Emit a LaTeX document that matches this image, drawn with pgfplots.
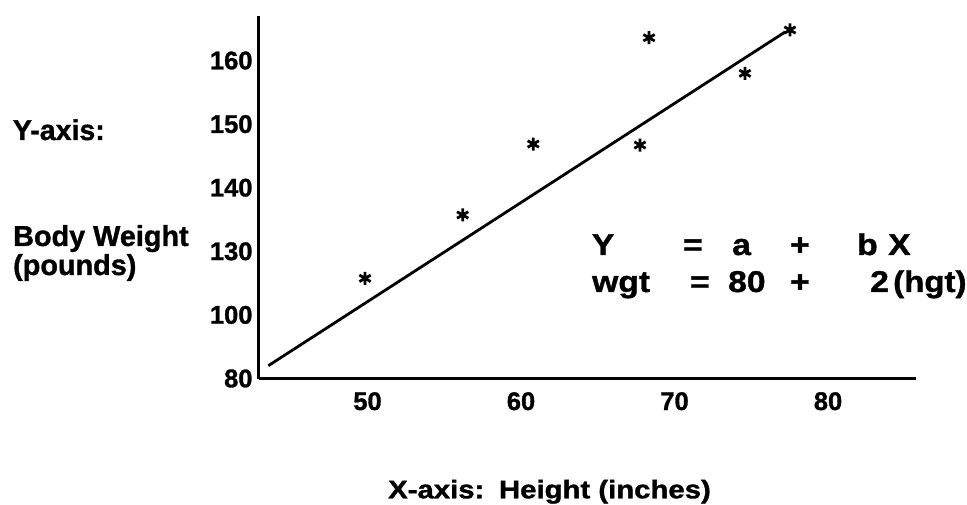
\documentclass[border=0pt]{standalone}
\usepackage{pgfplots}
\pgfplotsset{compat=1.18}
\usepackage{graphicx}
\usepackage{fontspec}
\setmainfont{Liberation Sans}[BoldFeatures={FakeBold=1.2}]
\newcommand\fs[1]{\fontsize{#1bp}{#1bp}\selectfont\bfseries}
\pgfplotstableread{
x y
49.84 125.75
56.20 135.71
60.80 146.87
67.75 146.71
68.34 163.58
74.59 157.99
77.52 164.80
}\pts
\begin{document}
\begin{tikzpicture}
\useasboundingbox (0,0) rectangle (967bp,505bp);
\begin{axis}[
  at={(258.5bp,126bp)}, anchor=south west,
  scale only axis, width=657.5bp, height=363bp,
  xmin=42.90, xmax=85.73, ymin=109.92, ymax=167.0,
  axis x line*=bottom, axis y line*=left,
  axis line style={-, line width=3bp},
  xtick={50,60,70,80}, xticklabels={50,60,70,80},
  ytick={110,120,130,140,150,160}, yticklabels={80,100,130,140,150,160},
  major tick length=0pt,
  ticklabel style={font=\fs{25.5}, inner sep=0pt},
  yticklabel style={xshift=-5.8bp},
  xticklabel style={yshift=-13bp},
  clip=false,
]
\addplot[no marks, line width=2.8bp] coordinates {(43.54,112.01) (77.2,164.48)};
\addplot[only marks, mark=asterisk, mark size=6.5bp, mark options={line width=2.8bp}] table[x=x,y=y] {\pts};
\end{axis}
\begin{scope}[every node/.style={inner sep=0pt, anchor=base west}]
\node at (12.7bp,365bp) {\fs{28.5}Y-axis:};
\node at (13bp,259bp) {\fs{28.8}Body Weight};
\node at (13bp,230bp) {\fs{28.8}(pounds)};
% equation row 1 (baseline y=255 px)
\node at (591.7bp,250bp) {\fs{30}\scalebox{1.12}[1]{Y}};
\node at (683bp,250bp) {\fs{30}\scalebox{1.12}[1]{=}};
\node at (732bp,250bp) {\fs{30}\scalebox{1.12}[1]{a}};
\node at (790bp,250bp) {\fs{30}\scalebox{1.12}[1]{+}};
\node at (857bp,250bp) {\fs{30}\scalebox{1.12}[1]{b}};
\node at (888bp,250bp) {\fs{30}\scalebox{1.12}[1]{X}};
% row 2 (baseline y=292 px)
\node at (592bp,213bp) {\fs{30}\scalebox{1.12}[1]{wgt}};
\node at (690bp,213bp) {\fs{30}\scalebox{1.12}[1]{=}};
\node at (728bp,213bp) {\fs{30}\scalebox{1.12}[1]{80}};
\node at (790bp,213bp) {\fs{30}\scalebox{1.12}[1]{+}};
\node at (870bp,213bp) {\fs{30}\scalebox{1.12}[1]{2}};
\node at (893bp,213bp) {\fs{30}\scalebox{1.1}[1]{(hgt)}};
% x label
\node at (388bp,6.7bp) {\fs{25.5}\scalebox{1.15}[1]{X-axis:\hspace{0.5em}Height (inches)}};
\end{scope}
\end{tikzpicture}
\end{document}
